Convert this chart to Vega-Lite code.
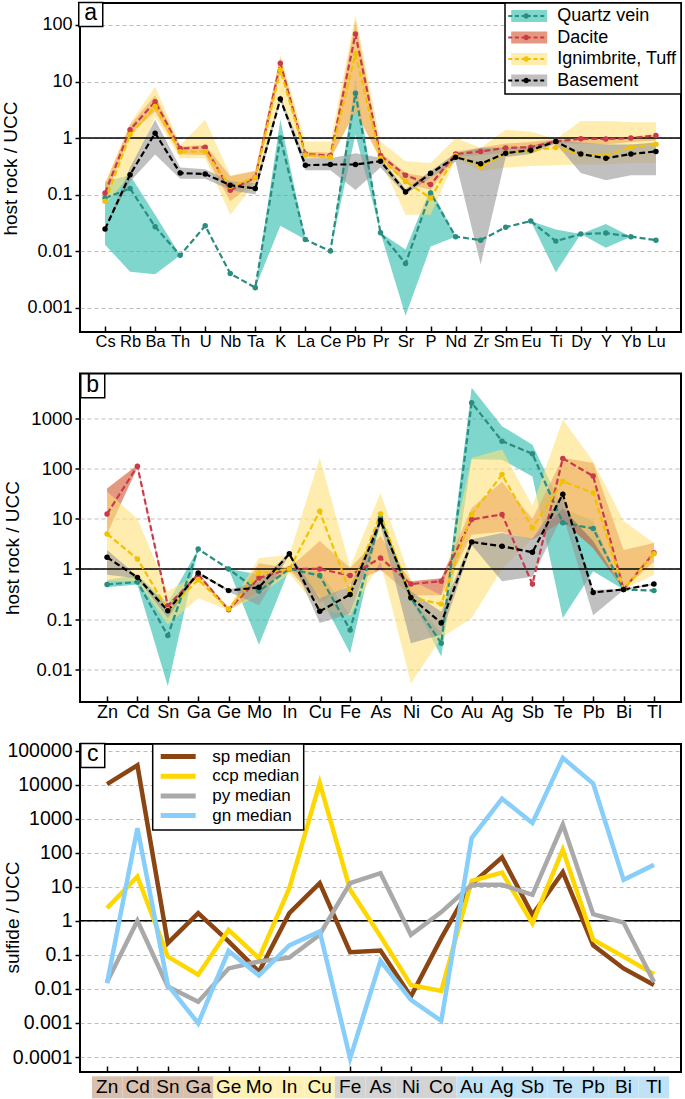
{
"$schema": "https://vega.github.io/schema/vega-lite/v6.json",
"background": "white",
"padding": {"left": 0, "top": -2, "right": 2, "bottom": 0},
"config": {
  "font": "Liberation Sans",
  "view": {"stroke": "black", "strokeWidth": 2},
  "axis": {"labelColor": "black", "titleColor": "black", "tickColor": "black", "domain": false, "labelFont": "Liberation Sans", "titleFont": "Liberation Sans", "titleFontWeight": "normal"},
  "legend": {"labelFont": "Liberation Sans", "labelColor": "black"},
  "text": {"font": "Liberation Sans"}
},
"datasets": {
  "a": [
    {"el":"Cs","g":"Quartz vein","m":0.087,"lo":0.013,"hi":0.17},
    {"el":"Rb","g":"Quartz vein","m":0.128,"lo":0.0043,"hi":0.22},
    {"el":"Ba","g":"Quartz vein","m":0.027,"lo":0.0039,"hi":0.044},
    {"el":"Th","g":"Quartz vein","m":0.0084,"lo":0.0084,"hi":0.0084},
    {"el":"U","g":"Quartz vein","m":0.028,"lo":0.028,"hi":0.028},
    {"el":"Nb","g":"Quartz vein","m":0.004,"lo":0.004,"hi":0.004},
    {"el":"Ta","g":"Quartz vein","m":0.00225,"lo":0.00225,"hi":0.00225},
    {"el":"K","g":"Quartz vein","m":1.0,"lo":0.028,"hi":2.1},
    {"el":"La","g":"Quartz vein","m":0.016,"lo":0.016,"hi":0.016},
    {"el":"Ce","g":"Quartz vein","m":0.01,"lo":0.01,"hi":0.01},
    {"el":"Pb","g":"Quartz vein","m":6.2,"lo":1.15,"hi":11.4},
    {"el":"Pr","g":"Quartz vein","m":0.021,"lo":0.021,"hi":0.021},
    {"el":"Sr","g":"Quartz vein","m":0.006,"lo":0.00072,"hi":0.0107},
    {"el":"P","g":"Quartz vein","m":0.107,"lo":0.012,"hi":0.13},
    {"el":"Nd","g":"Quartz vein","m":0.018,"lo":0.018,"hi":0.018},
    {"el":"Zr","g":"Quartz vein","m":0.0156,"lo":0.0156,"hi":0.0156},
    {"el":"Sm","g":"Quartz vein","m":0.0265,"lo":0.0265,"hi":0.0265},
    {"el":"Eu","g":"Quartz vein","m":0.034,"lo":0.034,"hi":0.034},
    {"el":"Ti","g":"Quartz vein","m":0.015,"lo":0.0042,"hi":0.024},
    {"el":"Dy","g":"Quartz vein","m":0.02,"lo":0.02,"hi":0.02},
    {"el":"Y","g":"Quartz vein","m":0.0208,"lo":0.0115,"hi":0.03},
    {"el":"Yb","g":"Quartz vein","m":0.018,"lo":0.018,"hi":0.018},
    {"el":"Lu","g":"Quartz vein","m":0.0156,"lo":0.0156,"hi":0.0156},
    {"el":"Cs","g":"Dacite","m":0.107,"lo":0.087,"hi":0.15},
    {"el":"Rb","g":"Dacite","m":1.4,"lo":1.15,"hi":1.7},
    {"el":"Ba","g":"Dacite","m":4.4,"lo":2.95,"hi":5.7},
    {"el":"Th","g":"Dacite","m":0.65,"lo":0.51,"hi":0.71},
    {"el":"U","g":"Dacite","m":0.69,"lo":0.5,"hi":0.75},
    {"el":"Nb","g":"Dacite","m":0.119,"lo":0.076,"hi":0.21},
    {"el":"Ta","g":"Dacite","m":0.2,"lo":0.17,"hi":0.26},
    {"el":"K","g":"Dacite","m":21,"lo":17,"hi":26.5},
    {"el":"La","g":"Dacite","m":0.52,"lo":0.46,"hi":0.58},
    {"el":"Ce","g":"Dacite","m":0.49,"lo":0.43,"hi":0.55},
    {"el":"Pb","g":"Dacite","m":69,"lo":3,"hi":120},
    {"el":"Pr","g":"Dacite","m":0.49,"lo":0.43,"hi":0.55},
    {"el":"Sr","g":"Dacite","m":0.22,"lo":0.16,"hi":0.24},
    {"el":"P","g":"Dacite","m":0.15,"lo":0.12,"hi":0.2},
    {"el":"Nd","g":"Dacite","m":0.52,"lo":0.46,"hi":0.58},
    {"el":"Zr","g":"Dacite","m":0.58,"lo":0.5,"hi":0.67},
    {"el":"Sm","g":"Dacite","m":0.67,"lo":0.55,"hi":0.8},
    {"el":"Eu","g":"Dacite","m":0.69,"lo":0.6,"hi":0.85},
    {"el":"Ti","g":"Dacite","m":0.87,"lo":0.8,"hi":0.95},
    {"el":"Dy","g":"Dacite","m":0.97,"lo":0.8,"hi":1.03},
    {"el":"Y","g":"Dacite","m":0.96,"lo":0.77,"hi":1.03},
    {"el":"Yb","g":"Dacite","m":1.0,"lo":0.85,"hi":1.05},
    {"el":"Lu","g":"Dacite","m":1.11,"lo":0.9,"hi":1.15},
    {"el":"Cs","g":"Ignimbrite, Tuff","m":0.076,"lo":0.067,"hi":0.16},
    {"el":"Rb","g":"Ignimbrite, Tuff","m":1.15,"lo":0.22,"hi":1.8},
    {"el":"Ba","g":"Ignimbrite, Tuff","m":3.6,"lo":2.4,"hi":8.2},
    {"el":"Th","g":"Ignimbrite, Tuff","m":0.57,"lo":0.44,"hi":0.75},
    {"el":"U","g":"Ignimbrite, Tuff","m":0.58,"lo":0.44,"hi":2.1},
    {"el":"Nb","g":"Ignimbrite, Tuff","m":0.14,"lo":0.044,"hi":0.22},
    {"el":"Ta","g":"Ignimbrite, Tuff","m":0.2,"lo":0.16,"hi":0.26},
    {"el":"K","g":"Ignimbrite, Tuff","m":16,"lo":5,"hi":29.5},
    {"el":"La","g":"Ignimbrite, Tuff","m":0.5,"lo":0.44,"hi":0.87},
    {"el":"Ce","g":"Ignimbrite, Tuff","m":0.46,"lo":0.42,"hi":0.87},
    {"el":"Pb","g":"Ignimbrite, Tuff","m":30.8,"lo":3,"hi":150},
    {"el":"Pr","g":"Ignimbrite, Tuff","m":0.44,"lo":0.4,"hi":0.87},
    {"el":"Sr","g":"Ignimbrite, Tuff","m":0.17,"lo":0.044,"hi":0.39},
    {"el":"P","g":"Ignimbrite, Tuff","m":0.087,"lo":0.044,"hi":0.36},
    {"el":"Nd","g":"Ignimbrite, Tuff","m":0.49,"lo":0.43,"hi":1.0},
    {"el":"Zr","g":"Ignimbrite, Tuff","m":0.31,"lo":0.26,"hi":0.67},
    {"el":"Sm","g":"Ignimbrite, Tuff","m":0.54,"lo":0.3,"hi":1.4},
    {"el":"Eu","g":"Ignimbrite, Tuff","m":0.6,"lo":0.32,"hi":1.3},
    {"el":"Ti","g":"Ignimbrite, Tuff","m":0.68,"lo":0.33,"hi":0.95},
    {"el":"Dy","g":"Ignimbrite, Tuff","m":0.52,"lo":0.34,"hi":2.0},
    {"el":"Y","g":"Ignimbrite, Tuff","m":0.49,"lo":0.34,"hi":2.0},
    {"el":"Yb","g":"Ignimbrite, Tuff","m":0.69,"lo":0.36,"hi":1.9},
    {"el":"Lu","g":"Ignimbrite, Tuff","m":0.78,"lo":0.36,"hi":1.9},
    {"el":"Cs","g":"Basement","m":0.0245,"lo":0.0245,"hi":0.0245},
    {"el":"Rb","g":"Basement","m":0.225,"lo":0.17,"hi":0.3},
    {"el":"Ba","g":"Basement","m":1.22,"lo":0.51,"hi":2.1},
    {"el":"Th","g":"Basement","m":0.24,"lo":0.19,"hi":0.3},
    {"el":"U","g":"Basement","m":0.232,"lo":0.19,"hi":0.28},
    {"el":"Nb","g":"Basement","m":0.146,"lo":0.12,"hi":0.17},
    {"el":"Ta","g":"Basement","m":0.128,"lo":0.1,"hi":0.16},
    {"el":"K","g":"Basement","m":4.9,"lo":4.5,"hi":5.5},
    {"el":"La","g":"Basement","m":0.33,"lo":0.27,"hi":0.44},
    {"el":"Ce","g":"Basement","m":0.34,"lo":0.27,"hi":0.44},
    {"el":"Pb","g":"Basement","m":0.34,"lo":0.12,"hi":0.54},
    {"el":"Pr","g":"Basement","m":0.39,"lo":0.3,"hi":0.45},
    {"el":"Sr","g":"Basement","m":0.111,"lo":0.1,"hi":0.125},
    {"el":"P","g":"Basement","m":0.238,"lo":0.2,"hi":0.26},
    {"el":"Nd","g":"Basement","m":0.456,"lo":0.38,"hi":0.54},
    {"el":"Zr","g":"Basement","m":0.35,"lo":0.0058,"hi":0.67},
    {"el":"Sm","g":"Basement","m":0.54,"lo":0.46,"hi":0.67},
    {"el":"Eu","g":"Basement","m":0.61,"lo":0.52,"hi":0.73},
    {"el":"Ti","g":"Basement","m":0.87,"lo":0.8,"hi":0.95},
    {"el":"Dy","g":"Basement","m":0.52,"lo":0.24,"hi":0.83},
    {"el":"Y","g":"Basement","m":0.44,"lo":0.18,"hi":0.77},
    {"el":"Yb","g":"Basement","m":0.52,"lo":0.22,"hi":0.77},
    {"el":"Lu","g":"Basement","m":0.58,"lo":0.22,"hi":0.83}
  ],
  "b": [
    {"el":"Zn","g":"Quartz vein","m":0.49,"lo":0.43,"hi":0.6},
    {"el":"Cd","g":"Quartz vein","m":0.55,"lo":0.49,"hi":0.77},
    {"el":"Sn","g":"Quartz vein","m":0.047,"lo":0.0046,"hi":0.21},
    {"el":"Ga","g":"Quartz vein","m":2.5,"lo":2.5,"hi":2.5},
    {"el":"Ge","g":"Quartz vein","m":1.0,"lo":1.0,"hi":1.0},
    {"el":"Mo","g":"Quartz vein","m":0.36,"lo":0.031,"hi":0.77},
    {"el":"In","g":"Quartz vein","m":1.0,"lo":1.0,"hi":1.0},
    {"el":"Cu","g":"Quartz vein","m":0.74,"lo":0.3,"hi":0.9},
    {"el":"Fe","g":"Quartz vein","m":0.061,"lo":0.021,"hi":0.12},
    {"el":"As","g":"Quartz vein","m":10.4,"lo":9,"hi":12.1},
    {"el":"Ni","g":"Quartz vein","m":0.26,"lo":0.26,"hi":0.26},
    {"el":"Co","g":"Quartz vein","m":0.033,"lo":0.018,"hi":0.053},
    {"el":"Au","g":"Quartz vein","m":2060,"lo":153,"hi":4100},
    {"el":"Ag","g":"Quartz vein","m":353,"lo":150,"hi":700},
    {"el":"Sb","g":"Quartz vein","m":197,"lo":70,"hi":300},
    {"el":"Te","g":"Quartz vein","m":8.3,"lo":0.105,"hi":16},
    {"el":"Pb","g":"Quartz vein","m":6.4,"lo":0.9,"hi":9},
    {"el":"Bi","g":"Quartz vein","m":0.39,"lo":0.39,"hi":0.39},
    {"el":"Tl","g":"Quartz vein","m":0.37,"lo":0.37,"hi":0.37},
    {"el":"Zn","g":"Dacite","m":12.5,"lo":5,"hi":40},
    {"el":"Cd","g":"Dacite","m":112,"lo":105,"hi":118},
    {"el":"Sn","g":"Dacite","m":0.185,"lo":0.17,"hi":0.2},
    {"el":"Ga","g":"Dacite","m":0.77,"lo":0.7,"hi":0.85},
    {"el":"Ge","g":"Dacite","m":0.154,"lo":0.15,"hi":0.16},
    {"el":"Mo","g":"Dacite","m":0.66,"lo":0.36,"hi":1.3},
    {"el":"In","g":"Dacite","m":1.0,"lo":0.95,"hi":1.05},
    {"el":"Cu","g":"Dacite","m":1.0,"lo":0.21,"hi":3.6},
    {"el":"Fe","g":"Dacite","m":0.74,"lo":0.49,"hi":1.05},
    {"el":"As","g":"Dacite","m":1.66,"lo":0.97,"hi":4.5},
    {"el":"Ni","g":"Dacite","m":0.5,"lo":0.3,"hi":0.57},
    {"el":"Co","g":"Dacite","m":0.57,"lo":0.3,"hi":0.65},
    {"el":"Au","g":"Dacite","m":9.7,"lo":4.8,"hi":16.5},
    {"el":"Ag","g":"Dacite","m":12.2,"lo":5.5,"hi":55},
    {"el":"Sb","g":"Dacite","m":0.5,"lo":3.8,"hi":10},
    {"el":"Te","g":"Dacite","m":160,"lo":9,"hi":165},
    {"el":"Pb","g":"Dacite","m":71,"lo":2.6,"hi":130},
    {"el":"Bi","g":"Dacite","m":0.39,"lo":0.4,"hi":2.4},
    {"el":"Tl","g":"Dacite","m":2.1,"lo":1.4,"hi":3.3},
    {"el":"Zn","g":"Ignimbrite, Tuff","m":5.0,"lo":0.57,"hi":35},
    {"el":"Cd","g":"Ignimbrite, Tuff","m":1.58,"lo":0.57,"hi":10},
    {"el":"Sn","g":"Ignimbrite, Tuff","m":0.154,"lo":0.078,"hi":0.36},
    {"el":"Ga","g":"Ignimbrite, Tuff","m":0.61,"lo":0.26,"hi":0.8},
    {"el":"Ge","g":"Ignimbrite, Tuff","m":0.16,"lo":0.15,"hi":0.17},
    {"el":"Mo","g":"Ignimbrite, Tuff","m":0.83,"lo":0.3,"hi":1.66},
    {"el":"In","g":"Ignimbrite, Tuff","m":1.0,"lo":0.8,"hi":1.9},
    {"el":"Cu","g":"Ignimbrite, Tuff","m":14.1,"lo":0.15,"hi":165},
    {"el":"Fe","g":"Ignimbrite, Tuff","m":0.34,"lo":0.12,"hi":1.1},
    {"el":"As","g":"Ignimbrite, Tuff","m":12.5,"lo":1.4,"hi":33},
    {"el":"Ni","g":"Ignimbrite, Tuff","m":0.27,"lo":0.0053,"hi":0.6},
    {"el":"Co","g":"Ignimbrite, Tuff","m":0.2,"lo":0.042,"hi":0.3},
    {"el":"Au","g":"Ignimbrite, Tuff","m":12.2,"lo":0.105,"hi":165},
    {"el":"Ag","g":"Ignimbrite, Tuff","m":76,"lo":1.0,"hi":240},
    {"el":"Sb","g":"Ignimbrite, Tuff","m":6.6,"lo":4,"hi":18},
    {"el":"Te","g":"Ignimbrite, Tuff","m":56,"lo":16,"hi":950},
    {"el":"Pb","g":"Ignimbrite, Tuff","m":33,"lo":3.6,"hi":140},
    {"el":"Bi","g":"Ignimbrite, Tuff","m":0.39,"lo":0.39,"hi":9},
    {"el":"Tl","g":"Ignimbrite, Tuff","m":2.0,"lo":0.77,"hi":3.3},
    {"el":"Zn","g":"Basement","m":1.71,"lo":0.77,"hi":2.4},
    {"el":"Cd","g":"Basement","m":0.68,"lo":0.65,"hi":0.72},
    {"el":"Sn","g":"Basement","m":0.147,"lo":0.105,"hi":0.18},
    {"el":"Ga","g":"Basement","m":0.83,"lo":0.8,"hi":0.87},
    {"el":"Ge","g":"Basement","m":0.37,"lo":0.35,"hi":0.39},
    {"el":"Mo","g":"Basement","m":0.43,"lo":0.19,"hi":0.55},
    {"el":"In","g":"Basement","m":2.0,"lo":1.9,"hi":2.1},
    {"el":"Cu","g":"Basement","m":0.143,"lo":0.084,"hi":0.26},
    {"el":"Fe","g":"Basement","m":0.31,"lo":0.13,"hi":0.45},
    {"el":"As","g":"Basement","m":9.2,"lo":7.5,"hi":10.5},
    {"el":"Ni","g":"Basement","m":0.27,"lo":0.033,"hi":0.36},
    {"el":"Co","g":"Basement","m":0.084,"lo":0.049,"hi":0.14},
    {"el":"Au","g":"Basement","m":3.46,"lo":3.0,"hi":3.9},
    {"el":"Ag","g":"Basement","m":2.83,"lo":0.57,"hi":5.2},
    {"el":"Sb","g":"Basement","m":2.15,"lo":0.7,"hi":4},
    {"el":"Te","g":"Basement","m":31,"lo":12,"hi":31},
    {"el":"Pb","g":"Basement","m":0.34,"lo":0.12,"hi":0.38},
    {"el":"Bi","g":"Basement","m":0.39,"lo":0.38,"hi":0.4},
    {"el":"Tl","g":"Basement","m":0.5,"lo":0.48,"hi":0.52}
  ],
  "c": [
    {"el":"Zn","s":"sp median","v":10400},{"el":"Cd","s":"sp median","v":37000},{"el":"Sn","s":"sp median","v":0.22},{"el":"Ga","s":"sp median","v":1.68},{"el":"Ge","s":"sp median","v":0.25},{"el":"Mo","s":"sp median","v":0.032},{"el":"In","s":"sp median","v":1.68},{"el":"Cu","s":"sp median","v":12.8},{"el":"Fe","s":"sp median","v":0.12},{"el":"As","s":"sp median","v":0.134},{"el":"Ni","s":"sp median","v":0.006},{"el":"Co","s":"sp median","v":0.31},{"el":"Au","s":"sp median","v":12},{"el":"Ag","s":"sp median","v":73},{"el":"Sb","s":"sp median","v":1.5},{"el":"Te","s":"sp median","v":27},{"el":"Pb","s":"sp median","v":0.19},{"el":"Bi","s":"sp median","v":0.04},{"el":"Tl","s":"sp median","v":0.013},
    {"el":"Zn","s":"ccp median","v":2.36},{"el":"Cd","s":"ccp median","v":20},{"el":"Sn","s":"ccp median","v":0.089},{"el":"Ga","s":"ccp median","v":0.026},{"el":"Ge","s":"ccp median","v":0.54},{"el":"Mo","s":"ccp median","v":0.08},{"el":"In","s":"ccp median","v":9.1},{"el":"Cu","s":"ccp median","v":11200},{"el":"Fe","s":"ccp median","v":8.2},{"el":"As","s":"ccp median","v":0.35},{"el":"Ni","s":"ccp median","v":0.013},{"el":"Co","s":"ccp median","v":0.0087},{"el":"Au","s":"ccp median","v":15},{"el":"Ag","s":"ccp median","v":26},{"el":"Sb","s":"ccp median","v":0.85},{"el":"Te","s":"ccp median","v":123},{"el":"Pb","s":"ccp median","v":0.28},{"el":"Bi","s":"ccp median","v":0.089},{"el":"Tl","s":"ccp median","v":0.027},
    {"el":"Zn","s":"py median","v":0.016},{"el":"Cd","s":"py median","v":1.0},{"el":"Sn","s":"py median","v":0.0117},{"el":"Ga","s":"py median","v":0.0042},{"el":"Ge","s":"py median","v":0.04},{"el":"Mo","s":"py median","v":0.064},{"el":"In","s":"py median","v":0.083},{"el":"Cu","s":"py median","v":0.39},{"el":"Fe","s":"py median","v":12.8},{"el":"As","s":"py median","v":25},{"el":"Ni","s":"py median","v":0.39},{"el":"Co","s":"py median","v":1.8},{"el":"Au","s":"py median","v":11.4},{"el":"Ag","s":"py median","v":11.4},{"el":"Sb","s":"py median","v":5.8},{"el":"Te","s":"py median","v":670},{"el":"Pb","s":"py median","v":1.57},{"el":"Bi","s":"py median","v":0.89},{"el":"Tl","s":"py median","v":0.016},
    {"el":"Zn","s":"gn median","v":0.0147},{"el":"Cd","s":"gn median","v":530},{"el":"Sn","s":"gn median","v":0.013},{"el":"Ga","s":"gn median","v":0.00098},{"el":"Ge","s":"gn median","v":0.13},{"el":"Mo","s":"gn median","v":0.025},{"el":"In","s":"gn median","v":0.19},{"el":"Cu","s":"gn median","v":0.49},{"el":"Fe","s":"gn median","v":0.0000912},{"el":"As","s":"gn median","v":0.067},{"el":"Ni","s":"gn median","v":0.0048},{"el":"Co","s":"gn median","v":0.00115},{"el":"Au","s":"gn median","v":270},{"el":"Ag","s":"gn median","v":3870},{"el":"Sb","s":"gn median","v":750},{"el":"Te","s":"gn median","v":61000},{"el":"Pb","s":"gn median","v":10700},{"el":"Bi","s":"gn median","v":16},{"el":"Tl","s":"gn median","v":44}
  ],
  "strip": [
    {"el":"Zn","cls":"sp"},{"el":"Cd","cls":"sp"},{"el":"Sn","cls":"sp"},{"el":"Ga","cls":"sp"},
    {"el":"Ge","cls":"ccp"},{"el":"Mo","cls":"ccp"},{"el":"In","cls":"ccp"},{"el":"Cu","cls":"ccp"},
    {"el":"Fe","cls":"py"},{"el":"As","cls":"py"},{"el":"Ni","cls":"py"},{"el":"Co","cls":"py"},
    {"el":"Au","cls":"gn"},{"el":"Ag","cls":"gn"},{"el":"Sb","cls":"gn"},{"el":"Te","cls":"gn"},{"el":"Pb","cls":"gn"},{"el":"Bi","cls":"gn"},{"el":"Tl","cls":"gn"}
  ]
},
"bounds": "flush",
"spacing": 41.5,
"resolve": {"scale": {"x": "independent", "y": "independent", "color": "independent", "stroke": "independent", "fill": "independent"}, "legend": {"color": "independent", "stroke": "independent", "fill": "independent"}, "axis": {"x": "independent", "y": "independent"}},
"vconcat": [
  {
    "name": "pa",
    "width": 601, "height": 329,
    "data": {"name": "a"},
    "layer": [
      {"mark": {"type": "area", "opacity": 0.6},
       "encoding": {
         "x": {"field": "el", "type": "ordinal",
           "sort": ["Cs","Rb","Ba","Th","U","Nb","Ta","K","La","Ce","Pb","Pr","Sr","P","Nd","Zr","Sm","Eu","Ti","Dy","Y","Yb","Lu"],
           "scale": {"type": "point", "padding": 1.1},
           "axis": {"title": null, "labelAngle": 0, "labelFontSize": 16.5, "tickSize": -6, "tickWidth": 1.5, "labelPadding": 7, "grid": false}},
         "y": {"field": "hi", "type": "quantitative", "stack": null, "scale": {"type": "log", "domain": [0.00037, 245], "nice": false},
           "axis": {"title": "host rock / UCC", "values": [0.001,0.01,0.1,1,10,100], "format": "~g", "labelFontSize": 18, "titleFontSize": 19, "titleX": -60, "titleY": 165, "tickSize": 5, "tickWidth": 1.5, "labelPadding": 3, "grid": true, "gridDash": [4,3], "gridColor": "#bdbdbd", "gridWidth": 1}},
         "y2": {"field": "lo"},
         "color": {"field": "g", "type": "nominal", "sort": ["Quartz vein","Dacite","Ignimbrite, Tuff","Basement"],
           "scale": {"range": ["#28bbaa","#d2532b","#ffe07a","#969696"]},
           "legend": {"orient": "top-right", "offset": 0, "title": null, "symbolType": "M-3,-1H3V1H-3Z", "symbolSize": 144, "symbolOffset": 11.2, "symbolStrokeWidth": 0, "symbolOpacity": 0.6, "labelFont": "Liberation Sans", "labelFontSize": 18, "labelOffset": 19, "rowPadding": 3.5, "padding": 4, "fillColor": "white", "strokeColor": "black", "zindex": 1, "encode": {"legend": {"update": {"strokeWidth": {"value": 1.5}}}}}}
       }},
      {"data": {"values": [{"ref": 1}]},
       "mark": {"type": "rule", "color": "black", "strokeWidth": 1.4},
       "encoding": {"y": {"field": "ref", "type": "quantitative"}}},
      {"mark": {"type": "line", "strokeDash": [6,3], "strokeWidth": 2.2},
       "encoding": {
         "x": {"field": "el", "type": "ordinal", "sort": ["Cs","Rb","Ba","Th","U","Nb","Ta","K","La","Ce","Pb","Pr","Sr","P","Nd","Zr","Sm","Eu","Ti","Dy","Y","Yb","Lu"]},
         "y": {"field": "m", "type": "quantitative"},
         "stroke": {"field": "g", "type": "nominal", "scale": {"domain": ["Quartz vein","Dacite","Ignimbrite, Tuff","Basement"], "range": ["#2b8c80","#c83a4c","#f2c200","#000000"]},
           "legend": {"orient": "none", "legendX": 422, "legendY": 0, "title": null, "symbolType": "M-3,0H-2.334M-1.884,0H-1.218M-0.768,0H0.768M1.218,0H1.884M2.334,0H3M0.27,0A0.27,0.27 0 1,1 -0.27,0A0.27,0.27 0 1,1 0.27,0", "symbolSize": 144, "symbolOffset": 11.2, "symbolStrokeWidth": 2.2, "symbolDash": [1000,0], "labelFont": "Liberation Sans", "labelFontSize": 18, "labelOffset": 19, "rowPadding": 3.5, "padding": 4, "labelColor": "transparent", "zindex": 2}}
       }},
      {"mark": {"type": "point", "filled": true, "size": 30, "opacity": 1},
       "encoding": {
         "x": {"field": "el", "type": "ordinal", "sort": ["Cs","Rb","Ba","Th","U","Nb","Ta","K","La","Ce","Pb","Pr","Sr","P","Nd","Zr","Sm","Eu","Ti","Dy","Y","Yb","Lu"]},
         "y": {"field": "m", "type": "quantitative"},
         "fill": {"field": "g", "type": "nominal", "scale": {"domain": ["Quartz vein","Dacite","Ignimbrite, Tuff","Basement"], "range": ["#2b8c80","#c83a4c","#f2c200","#000000"]}, "legend": null}
       }},
      {"data": {"values": [{"t": "a"}]},
       "mark": {"type": "point", "shape": "square", "size": 576, "filled": true, "fill": "white", "stroke": "black", "strokeWidth": 1.5, "opacity": 1, "xOffset": -14.3},
       "encoding": {"x": {"datum": "Cs", "type": "ordinal"}, "y": {"datum": 154, "type": "quantitative"}}},
      {"data": {"values": [{"t": "a"}]},
       "mark": {"type": "text", "font": "Liberation Sans", "fontSize": 23, "align": "center", "baseline": "middle", "xOffset": -14.3, "yOffset": -1, "color": "black"},
       "encoding": {"x": {"datum": "Cs", "type": "ordinal"}, "y": {"datum": 154, "type": "quantitative"}, "text": {"field": "t"}}}
    ]
  },
  {
    "name": "pb",
    "width": 601, "height": 328.4,
    "data": {"name": "b"},
    "layer": [
      {"mark": {"type": "area", "opacity": 0.6},
       "encoding": {
         "x": {"field": "el", "type": "ordinal",
           "sort": ["Zn","Cd","Sn","Ga","Ge","Mo","In","Cu","Fe","As","Ni","Co","Au","Ag","Sb","Te","Pb","Bi","Tl"],
           "scale": {"type": "point", "padding": 0.89},
           "axis": {"title": null, "labelAngle": 0, "labelFontSize": 18, "tickSize": -6, "tickWidth": 1.5, "labelPadding": 8, "grid": false}},
         "y": {"field": "hi", "type": "quantitative", "stack": null, "scale": {"type": "log", "domain": [0.00224, 7870], "nice": false},
           "axis": {"title": "host rock / UCC", "values": [0.01,0.1,1,10,100,1000], "format": "~g", "labelFontSize": 18.5, "titleFontSize": 19, "titleX": -58, "titleY": 174, "tickSize": 5, "tickWidth": 1.5, "labelPadding": 3, "grid": true, "gridDash": [4,3], "gridColor": "#bdbdbd", "gridWidth": 1}},
         "y2": {"field": "lo"},
         "color": {"field": "g", "type": "nominal", "sort": ["Quartz vein","Dacite","Ignimbrite, Tuff","Basement"],
           "scale": {"range": ["#28bbaa","#d2532b","#ffe07a","#969696"]}, "legend": null}
       }},
      {"data": {"values": [{"ref": 1}]},
       "mark": {"type": "rule", "color": "black", "strokeWidth": 1.4},
       "encoding": {"y": {"field": "ref", "type": "quantitative"}}},
      {"mark": {"type": "line", "strokeDash": [6,3], "strokeWidth": 2.2},
       "encoding": {
         "x": {"field": "el", "type": "ordinal", "sort": ["Zn","Cd","Sn","Ga","Ge","Mo","In","Cu","Fe","As","Ni","Co","Au","Ag","Sb","Te","Pb","Bi","Tl"]},
         "y": {"field": "m", "type": "quantitative"},
         "stroke": {"field": "g", "type": "nominal", "scale": {"domain": ["Quartz vein","Dacite","Ignimbrite, Tuff","Basement"], "range": ["#2b8c80","#c83a4c","#f2c200","#000000"]}, "legend": null}
       }},
      {"mark": {"type": "point", "filled": true, "size": 30, "opacity": 1},
       "encoding": {
         "x": {"field": "el", "type": "ordinal", "sort": ["Zn","Cd","Sn","Ga","Ge","Mo","In","Cu","Fe","As","Ni","Co","Au","Ag","Sb","Te","Pb","Bi","Tl"]},
         "y": {"field": "m", "type": "quantitative"},
         "fill": {"field": "g", "type": "nominal", "scale": {"domain": ["Quartz vein","Dacite","Ignimbrite, Tuff","Basement"], "range": ["#2b8c80","#c83a4c","#f2c200","#000000"]}, "legend": null}
       }},
      {"data": {"values": [{"t": "b"}]},
       "mark": {"type": "point", "shape": "square", "size": 576, "filled": true, "fill": "white", "stroke": "black", "strokeWidth": 1.5, "opacity": 1, "xOffset": -14.3},
       "encoding": {"x": {"datum": "Zn", "type": "ordinal"}, "y": {"datum": 4470, "type": "quantitative"}}},
      {"data": {"values": [{"t": "b"}]},
       "mark": {"type": "text", "font": "Liberation Sans", "fontSize": 23, "align": "center", "baseline": "middle", "xOffset": -14.3, "yOffset": -1, "color": "black"},
       "encoding": {"x": {"datum": "Zn", "type": "ordinal"}, "y": {"datum": 4470, "type": "quantitative"}, "text": {"field": "t"}}}
    ]
  },
  {
    "bounds": "flush",
    "spacing": 4.3,
    "resolve": {"scale": {"x": "independent", "y": "independent", "color": "independent", "stroke": "independent"}, "legend": {"color": "independent", "stroke": "independent"}, "axis": {"x": "independent", "y": "independent"}},
    "vconcat": [
      {
        "name": "pc",
        "width": 601, "height": 328,
        "data": {"name": "c"},
        "layer": [
          {"data": {"values": [{"ref": 1}]},
           "mark": {"type": "rule", "color": "black", "strokeWidth": 1.4},
           "encoding": {"y": {"field": "ref", "type": "quantitative", "scale": {"type": "log", "domain": [0.0000363, 156000], "nice": false},
             "axis": {"title": "sulfide / UCC", "values": [0.0001,0.001,0.01,0.1,1,10,100,1000,10000,100000], "format": "~g", "labelFontSize": 19.5, "titleFontSize": 19, "titleX": -58, "titleY": 173, "tickSize": 5, "tickWidth": 1.5, "labelPadding": 3, "grid": true, "gridDash": [4,3], "gridColor": "#bdbdbd", "gridWidth": 1}}}},
          {"mark": {"type": "line", "strokeWidth": 4.5},
           "encoding": {
             "x": {"field": "el", "type": "ordinal",
               "sort": ["Zn","Cd","Sn","Ga","Ge","Mo","In","Cu","Fe","As","Ni","Co","Au","Ag","Sb","Te","Pb","Bi","Tl"],
               "scale": {"type": "point", "padding": 0.89},
               "axis": {"title": null, "labels": false, "tickSize": -6, "tickWidth": 1.5, "grid": false}},
             "y": {"field": "v", "type": "quantitative"},
             "stroke": {"field": "s", "type": "nominal", "scale": {"domain": ["sp median","ccp median","py median","gn median"], "range": ["#8b4513","#ffd700","#a9a9a9","#87cefa"]},
               "legend": {"orient": "none", "legendX": 72.7, "legendY": 0, "title": null, "symbolType": "M-3,0H3", "symbolSize": 136, "symbolOffset": 13, "symbolStrokeWidth": 5, "labelFont": "Liberation Sans", "labelFontSize": 17, "labelOffset": 25.6, "rowPadding": -1.3, "padding": 4, "fillColor": "white", "strokeColor": "black", "encode": {"legend": {"update": {"strokeWidth": {"value": 1.5}}}}}}
           }},
          {"data": {"values": [{"t": "c"}]},
           "mark": {"type": "point", "shape": "square", "size": 576, "filled": true, "fill": "white", "stroke": "black", "strokeWidth": 1.5, "opacity": 1, "xOffset": -14.3},
           "encoding": {"x": {"datum": "Zn", "type": "ordinal"}, "y": {"datum": 71800, "type": "quantitative"}}},
          {"data": {"values": [{"t": "c"}]},
           "mark": {"type": "text", "font": "Liberation Sans", "fontSize": 23, "align": "center", "baseline": "middle", "xOffset": -14.3, "yOffset": -1, "color": "black"},
           "encoding": {"x": {"datum": "Zn", "type": "ordinal"}, "y": {"datum": 71800, "type": "quantitative"}, "text": {"field": "t"}}}
        ]
      },
      {
        "name": "strip",
        "width": 601, "height": 22,
        "data": {"name": "strip"},
        "view": {"stroke": null},
        "encoding": {
          "x": {"field": "el", "type": "ordinal",
            "sort": ["Zn","Cd","Sn","Ga","Ge","Mo","In","Cu","Fe","As","Ni","Co","Au","Ag","Sb","Te","Pb","Bi","Tl"],
            "scale": {"type": "band", "paddingInner": 0, "paddingOuter": 0.395}, "axis": null}
        },
        "layer": [
          {"mark": {"type": "rect"},
           "encoding": {"color": {"field": "cls", "type": "nominal", "scale": {"domain": ["sp","ccp","py","gn"], "range": ["#d9c0ae","#fdf1b5","#d3d3d3","#bfe2f6"]}, "legend": null}}},
          {"mark": {"type": "text", "font": "Liberation Sans", "fontSize": 19, "baseline": "middle", "align": "center", "color": "black"},
           "encoding": {"text": {"field": "el"}}}
        ]
      }
    ]
  }
]
}
